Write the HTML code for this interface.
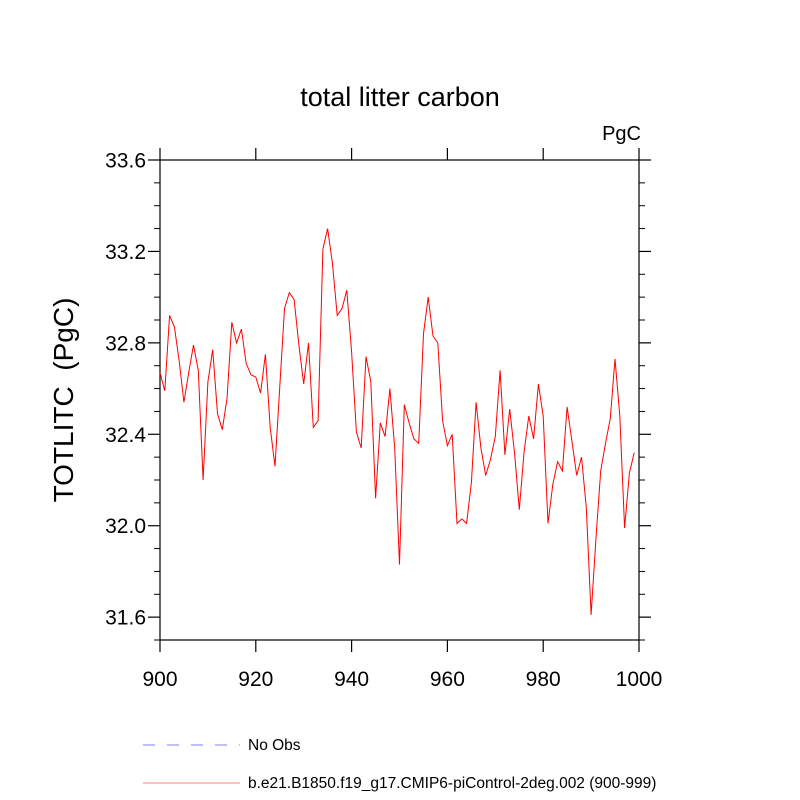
<!DOCTYPE html>
<html><head><meta charset="utf-8"><style>
body{margin:0;background:#fff}
svg{display:block;font-family:"Liberation Sans",Arial,sans-serif}
</style></head><body>
<svg id="chart" width="800" height="800" viewBox="0 0 800 800">
<text x="400" y="106" text-anchor="middle" font-size="27">total litter carbon</text>
<text x="641" y="140" text-anchor="end" font-size="20">PgC</text>
<text transform="translate(73,400) rotate(-90)" text-anchor="middle" font-size="28" style="white-space:pre">TOTLITC  (PgC)</text>
<g id="axes"></g>
<g id="series"></g>
<g>
<line x1="143" y1="745" x2="240" y2="745" stroke="#8080ff" stroke-width="1" stroke-dasharray="12,12"/>
<text x="248" y="750" font-size="15.5">No Obs</text>
<line x1="143" y1="783" x2="240" y2="783" stroke="#ff8080" stroke-width="1"/>
<text x="248" y="788" font-size="15.5">b.e21.B1850.f19_g17.CMIP6-piControl-2deg.002 (900-999)</text>
</g>
</svg>
<script>
const startYear = 900;
const values = [32.67,32.59,32.92,32.87,32.72,32.54,32.67,32.79,32.68,32.20,
32.63,32.77,32.49,32.42,32.56,32.89,32.80,32.86,32.71,32.66,
32.65,32.58,32.75,32.43,32.26,32.61,32.95,33.02,32.99,32.79,
32.62,32.80,32.43,32.46,33.21,33.30,33.15,32.92,32.95,33.03,
32.76,32.41,32.34,32.74,32.63,32.12,32.45,32.39,32.60,32.34,
31.83,32.53,32.45,32.38,32.36,32.84,33.00,32.83,32.80,32.46,
32.35,32.40,32.01,32.03,32.01,32.19,32.54,32.34,32.22,32.29,
32.39,32.68,32.31,32.51,32.32,32.07,32.32,32.48,32.38,32.62,
32.48,32.01,32.18,32.28,32.24,32.52,32.37,32.22,32.30,32.08,
31.61,31.94,32.24,32.36,32.47,32.73,32.48,31.99,32.23,32.32];
const xTicks = [900,920,940,960,980,1000];
const yTicks = [31.6,32.0,32.4,32.8,33.2,33.6];
const yMinorTicks = [31.5,31.7,31.8,31.9,32.1,32.2,32.3,32.5,32.6,32.7,32.9,33.0,33.1,33.3,33.4,33.5];
const L=160,R=639,T=160,B=640,xMin=900,xMax=1000,yMin=31.5,yMax=33.6;
const sx=v=>L+(v-xMin)/(xMax-xMin)*(R-L);
const sy=v=>B-(v-yMin)/(yMax-yMin)*(B-T);
const NS='http://www.w3.org/2000/svg';
const axes=document.getElementById('axes');
function mk(tag,attrs,parent){const e=document.createElementNS(NS,tag);for(const k in attrs)e.setAttribute(k,attrs[k]);parent.appendChild(e);return e;}
const box=mk('rect',{x:L,y:T,width:R-L,height:B-T,fill:'none',stroke:'#000','stroke-width':1.2},axes);


xTicks.forEach(v=>{
  const x=sx(v);
  const t1=mk('line',{x1:x,y1:B,x2:x,y2:B+12,stroke:'#000','stroke-width':1.2},axes);
  
  
  const t2=mk('line',{x1:x,y1:T,x2:x,y2:T-12,stroke:'#000','stroke-width':1.2},axes);
  
  
  const lb=mk('text',{x:x,y:686,'text-anchor':'middle','font-size':21},axes);
  lb.textContent=v;
  
  
});
yTicks.forEach(v=>{
  const y=sy(v);
  const t1=mk('line',{x1:L-12,y1:y,x2:L,y2:y,stroke:'#000','stroke-width':1.2},axes);
  
  
  const t2=mk('line',{x1:R,y1:y,x2:R+12,y2:y,stroke:'#000','stroke-width':1.2},axes);
  
  
  const lb=mk('text',{x:146,y:y+7.5,'text-anchor':'end','font-size':21},axes);
  lb.textContent=v.toFixed(1);
  
  
});
yMinorTicks.forEach(v=>{
  const y=sy(v);
  const t1=mk('line',{x1:L-6,y1:y,x2:L,y2:y,stroke:'#000','stroke-width':1},axes);
  
  
  const t2=mk('line',{x1:R,y1:y,x2:R+6,y2:y,stroke:'#000','stroke-width':1},axes);
  
  
});
const pts=values.map((v,i)=>sx(startYear+i).toFixed(1)+','+sy(v).toFixed(1)).join(' ');
const line=mk('polyline',{points:pts,fill:'none',stroke:'#ff0000','stroke-width':1},document.getElementById('series'));


</script>
</body></html>
